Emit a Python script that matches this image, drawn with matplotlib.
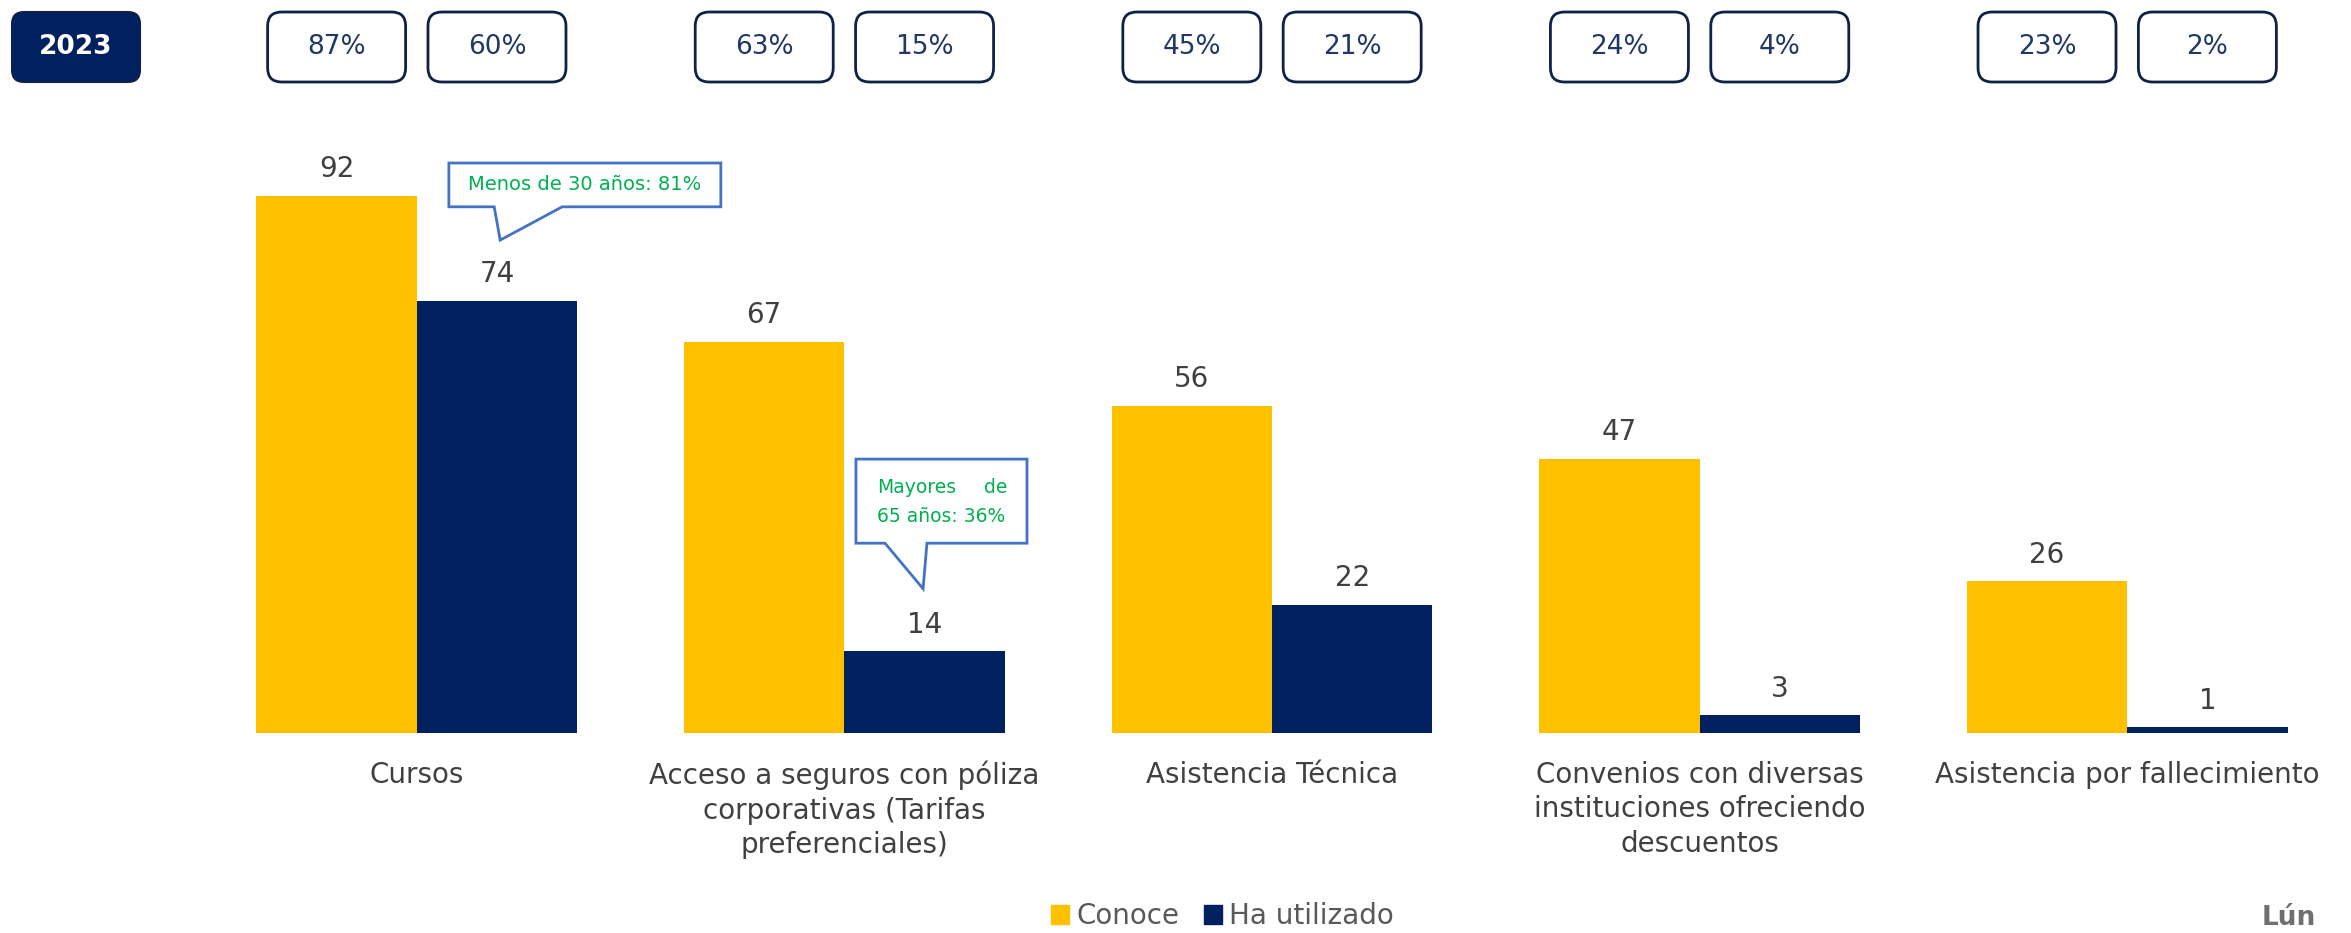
import matplotlib.pyplot as plt
from matplotlib.patches import FancyBboxPatch, Polygon, Patch
from matplotlib.transforms import IdentityTransform
import numpy as np

# data
categories = ["Cursos",
              "Acceso a seguros con póliza\ncorporativas (Tarifas\npreferenciales)",
              "Asistencia Técnica",
              "Convenios con diversas\ninstituciones ofreciendo\ndescuentos",
              "Asistencia por fallecimiento"]
conoce = [92, 67, 56, 47, 26]
utilizado = [74, 14, 22, 3, 1]
# values shown in the boxes on top (previous year)
top_conoce = ["87%", "63%", "45%", "24%", "23%"]
top_utilizado = ["60%", "15%", "21%", "4%", "2%"]
year = "2023"

yellow = "#FFC000"
navy = "#002060"
grey = "#404040"
green = "#00B050"
callout_edge = "#4472C4"

W, H = 2351, 933
fig = plt.figure(figsize=(W / 100, H / 100), dpi=100)
ax = fig.add_axes([203 / W, (H - 733) / H, 2138 / W, 584 / H])

x = np.arange(len(categories))
bw = 0.375
b1 = ax.bar(x - bw / 2, conoce, bw, color=yellow, label="Conoce")
b2 = ax.bar(x + bw / 2, utilizado, bw, color=navy, label="Ha utilizado")

for bars in (b1, b2):
    for r in bars:
        ax.annotate(f"{r.get_height():.0f}", (r.get_x() + r.get_width() / 2, r.get_height()),
                    xytext=(0, 9), textcoords="offset points", ha="center", va="bottom",
                    fontsize=20, color=grey)

ax.set_xlim(-0.5, len(categories) - 0.5)
ax.set_ylim(0, 100)
ax.set_xticks(x)
ax.set_xticklabels(categories, fontsize=20, color=grey, linespacing=1.3)
ax.tick_params(axis="x", length=0, pad=20)
ax.set_yticks([])
for s in ax.spines.values():
    s.set_visible(False)

# top boxes, aligned with each bar
px = IdentityTransform()
bw_px, bh_px = 138, 70
ytop = H - 12 - bh_px
for xs, labels in ((x - bw / 2, top_conoce), (x + bw / 2, top_utilizado)):
    for xi, lab in zip(xs, labels):
        xc = ax.transData.transform((xi, 0))[0]
        fig.add_artist(FancyBboxPatch((xc - bw_px / 2, ytop), bw_px, bh_px,
                                      boxstyle="round,pad=0,rounding_size=14",
                                      transform=px, fc="white", ec="#0E2246", lw=2))
        fig.text(xc / W, (ytop + bh_px / 2) / H, lab, ha="center", va="center",
                 fontsize=19, color="#1F3864")

fig.add_artist(FancyBboxPatch((12, ytop), 128, bh_px, boxstyle="round,pad=0,rounding_size=12",
                              transform=px, fc=navy, ec="#0E2246", lw=1.5))
fig.text(76 / W, (ytop + bh_px / 2) / H, year, ha="center", va="center",
         fontsize=19, color="white", fontweight="bold")

# callouts
c1 = [(0.075, 97.6), (0.711, 97.6), (0.711, 90.1), (0.340, 90.1), (0.195, 84.4),
      (0.181, 90.1), (0.075, 90.1)]
ax.add_patch(Polygon(c1, closed=True, fc="white", ec=callout_edge, lw=2, clip_on=False))
ax.text(0.393, 93.85, "Menos de 30 años: 81%", ha="center", va="center", fontsize=14, color=green)

c2 = [(1.027, 46.9), (1.427, 46.9), (1.427, 32.5), (1.193, 32.5), (1.184, 24.7),
      (1.095, 32.5), (1.027, 32.5)]
ax.add_patch(Polygon(c2, closed=True, fc="white", ec=callout_edge, lw=2, clip_on=False))
ax.text(1.076, 42.0, "Mayores", ha="left", va="center", fontsize=13.5, color=green)
ax.text(1.381, 42.0, "de", ha="right", va="center", fontsize=13.5, color=green)
ax.text(1.076, 37.0, "65 años: 36%", ha="left", va="center", fontsize=13.5, color=green)

handles = [Patch(color=yellow), Patch(color=navy)]
fig.legend(handles, ["Conoce", "Ha utilizado"], loc="center", bbox_to_anchor=(0.52, 0.018),
           ncol=2, frameon=False, fontsize=20, labelcolor="#595959",
           handlelength=0.65, handleheight=0.65, handletextpad=0.25, columnspacing=0.9)

# logo fragment in the corner
fig.text(2262 / W, 2 / H, "Lún", ha="left", va="bottom", fontsize=19, fontweight="bold", color="#6f6f6f")

fig.savefig("out.png", dpi=100)
